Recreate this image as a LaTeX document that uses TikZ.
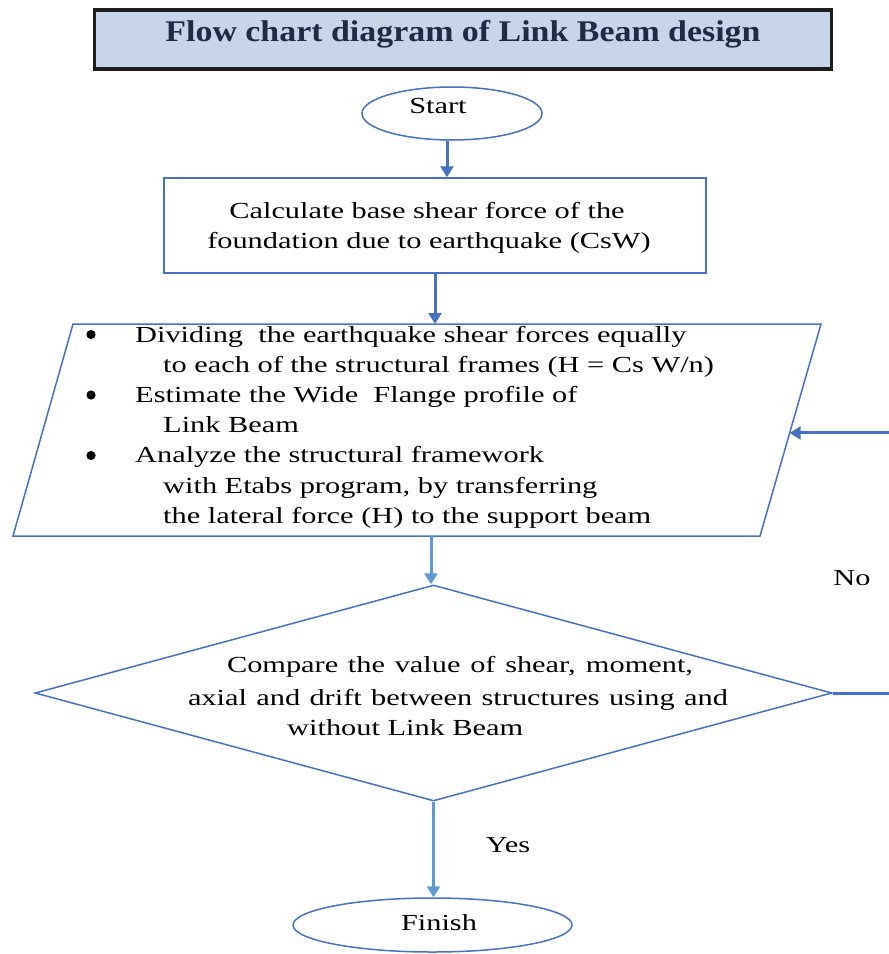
\documentclass[tikz,border=0pt]{standalone}
\usepackage{fontspec}
\setmainfont{Liberation Serif}[FakeStretch=1.32]
\newfontfamily\titlefont{Liberation Serif}[FakeStretch=1.13]
\usetikzlibrary{arrows.meta,shapes.geometric,calc}
\definecolor{shapeblue}{HTML}{4472C4}
\definecolor{arrowdark}{HTML}{4472C4}
\definecolor{arrowlight}{HTML}{5B9BD5}
\definecolor{titlefill}{HTML}{C6D5EA}
\definecolor{titletext}{HTML}{1F2A44}
\definecolor{titleborder}{HTML}{1E1E1E}
\tikzset{
  bodyfont/.style={font=\fontsize{23}{30}\selectfont},
  txt/.style={bodyfont, inner sep=0pt, anchor=base, text=black},
  txtl/.style={bodyfont, inner sep=0pt, anchor=base west, text=black},
  bulletmark/.style={inner sep=0pt, anchor=center, text=black},
  shapeline/.style={draw=shapeblue, line width=1.5pt},
  conndark/.style={draw=arrowdark, line width=3pt, -{Triangle[width=13pt,length=11pt]}},
  connlight/.style={draw=arrowlight, line width=3pt, -{Triangle[width=13pt,length=11pt]}},
}
\begin{document}
\begin{tikzpicture}[x=1pt,y=-1pt]
\useasboundingbox (0,0) rectangle (889,954);
\clip (0,0) rectangle (889,954);

% title
\node[draw=titleborder, line width=3.5pt, fill=titlefill, minimum width=737pt, minimum height=59pt, inner sep=0pt] (title) at (463,39.5) {};
\node[inner sep=0pt, anchor=base, text=titletext, font=\titlefont\bfseries\fontsize{30}{34}\selectfont] (titletxt) at (463,41) {Flow chart diagram of Link Beam design};

% start
\node[ellipse, shapeline, minimum width=180pt, minimum height=53pt, inner sep=0pt] (start) at (452,113.5) {};
\node[txt] (starttxt) at (438,113) {Start};

% calculate box
\node[rectangle, shapeline, minimum width=542pt, minimum height=95pt, inner sep=0pt] (calc) at (435,225.5) {};
\node[txt] (c1) at (427,218) {Calculate base shear force of the};
\node[txt] (c2) at (429,248) {foundation due to earthquake (CsW)};

% parallelogram
\coordinate (pTL) at (73,324);
\coordinate (pTR) at (821,324);
\coordinate (pBR) at (760,536);
\coordinate (pBL) at (13,536);
\draw[shapeline] (pTL) -- (pTR) -- (pBR) -- (pBL) -- cycle;
\coordinate (pTop) at (437,324);
\coordinate (pBot) at (431,536);
\coordinate (pRight) at ($(pTR)!0.514!(pBR)$);

\fill[black] (91,334.5) circle (4.6pt) coordinate (b1);
\node[txtl] (l1) at (135,342) {Dividing\ \ the earthquake shear forces equally};
\node[txtl] (l2) at (163,372.2) {to each of the structural frames (H = Cs W/n)};
\fill[black] (91,395) circle (4.6pt) coordinate (b2);
\node[txtl] (l3) at (135,402.4) {Estimate the Wide\ \ Flange profile of};
\node[txtl] (l4) at (163,432.6) {Link Beam};
\fill[black] (91,455.5) circle (4.6pt) coordinate (b3);
\node[txtl] (l5) at (135,462.8) {Analyze the structural framework};
\node[txtl] (l6) at (163,493) {with Etabs program, by transferring};
\node[txtl] (l7) at (163,523.2) {the lateral force (H) to the support beam};

% diamond
\node[diamond, shapeline, minimum width=797pt, minimum height=216pt, inner sep=0pt] (cmp) at (433.5,693) {};
\node[txt] (d1) at (460,672) {\makebox[466pt][s]{Compare the value of shear, moment,}};
\node[txt] (d2) at (458,705) {\makebox[540pt][s]{axial and drift between structures using and}};
\node[txtl] (d3) at (287,735) {without Link Beam};

% finish
\node[ellipse, shapeline, minimum width=279pt, minimum height=54pt, inner sep=0pt] (fin) at (432.5,925) {};
\node[txt] (fintxt) at (439,930) {Finish};

% labels
\node[txt] (yes) at (508,852) {Yes};
\node[txt] (no) at (852,585) {No};

% connectors
\coordinate (s1) at ($(start.south)+(-5,0)$);
\draw[conndark] (s1) -- (s1 |- calc.north);
\draw[conndark] (calc.south) -- (calc.south |- pTop);
\draw[connlight] (pBot) -- (pBot |- cmp.north);
\draw[connlight] (cmp.south) -- (cmp.south |- fin.north);
\draw[conndark] (cmp.east) -- ++(72,0) |- (pRight);
\end{tikzpicture}
\end{document}
